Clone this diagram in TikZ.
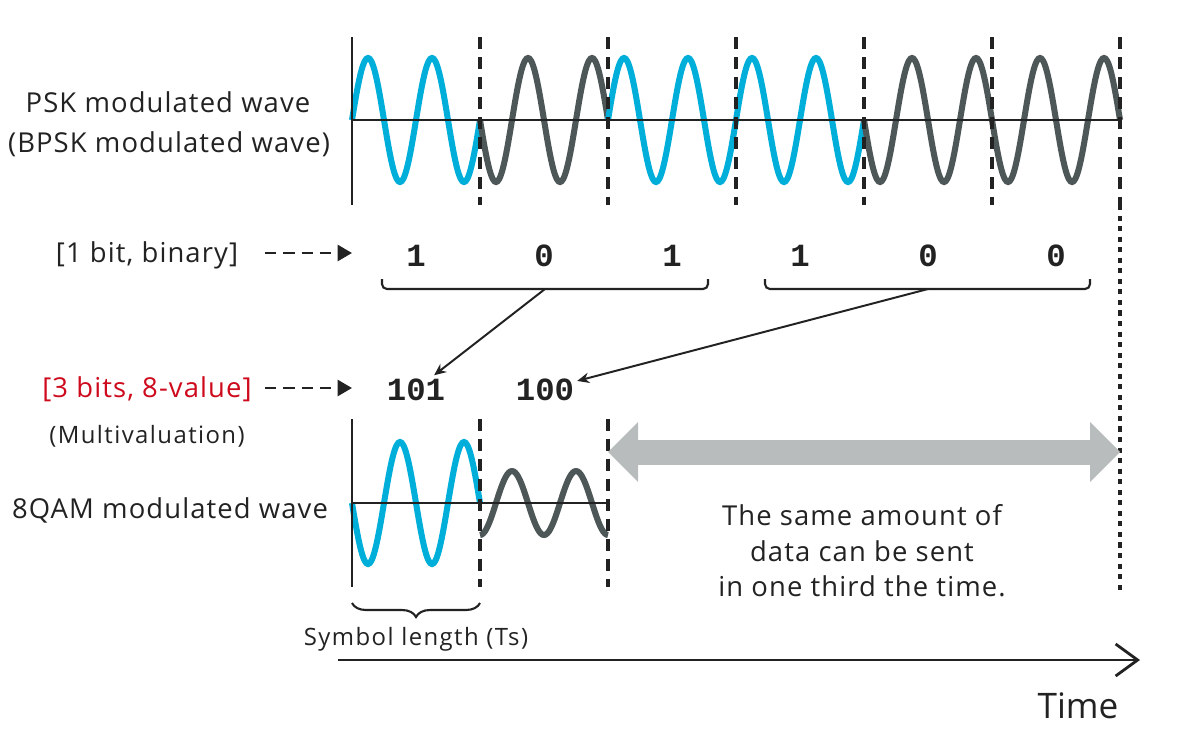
\documentclass[tikz,border=0pt]{standalone}
\usepackage{fontspec}
\setmainfont{Open Sans}
\newfontfamily\bitfont{Liberation Mono}
\usetikzlibrary{arrows.meta,decorations.pathreplacing}
\definecolor{oneblue}{HTML}{00AEDA}
\definecolor{zerogrey}{HTML}{4D5758}
\definecolor{ink}{HTML}{222222}
\definecolor{crimson}{HTML}{CE0A1D}
\definecolor{spangrey}{HTML}{B9BCBC}
\tikzset{
  lbl/.style={font=\fontsize{19.5}{25.3}\selectfont\addfontfeatures{LetterSpace=4}, text=ink, inner sep=0pt, anchor=base},
  sml/.style={font=\fontsize{17}{20}\selectfont\addfontfeatures{LetterSpace=6}, text=ink, inner sep=0pt, anchor=base},
  bitv/.style={font=\bitfont\bfseries\fontsize{23}{26}\selectfont, text=ink, inner sep=2pt, anchor=base},
  axisln/.style={draw=ink, line width=1.9pt},
  symln/.style={draw=ink, line width=2.6pt, dash pattern=on 8.5pt off 5.7pt},
  dotln/.style={draw=ink, line width=2.6pt, dash pattern=on 3.6pt off 3.9pt},
  wav/.style={draw=#1, line width=4.3pt},
  grp/.style={draw=ink, line width=1.5pt, rounded corners=3.5pt},
  link/.style={draw=ink, line width=1.4pt, -{Stealth[length=3mm,width=2.6mm]}},
  ptr/.style={draw=ink, line width=1.9pt, dash pattern=on 8pt off 5pt, -{Triangle[length=3.6mm,width=4mm]}},
  span/.style={draw=spangrey, line width=6.25mm,
               {Triangle[length=7.5mm,width=15mm,line width=0pt]}-{Triangle[length=7.5mm,width=15mm,line width=0pt]}},
  tbrace/.style={draw=ink, line width=1.5pt, decorate, decoration={brace, mirror, amplitude=3.5mm}},
  timeax/.style={draw=ink, line width=2pt, -{Straight Barb[length=5.5mm,width=8mm]}},
}

\begin{document}
\begin{tikzpicture}[x=0.025cm, y=-0.025cm]
  \useasboundingbox (0,0) rectangle (1200,750);

  % PSK wave, one symbol per bit
  \foreach \s/\c [count=\i from 0] in {1/oneblue,-1/zerogrey,1/oneblue,1/oneblue,-1/zerogrey,-1/zerogrey}
    \draw[wav=\c] plot[domain=0:128, samples=81, smooth] ({352+128*\i+\x}, {120-(\s)*62*sin(5.625*\x)});
  \draw[axisln] (352,37) -- (352,205);
  \draw[axisln] (352,120) -- (1120,120);
  \foreach \x in {480,608,...,1120}
    \draw[symln] (\x,37) -- (\x,205);
  \draw[dotln] (1120,205) -- (1120,590);

  % 8QAM wave
  \draw[wav=oneblue] plot[domain=0:128, samples=81, smooth] ({352+\x}, {503+61*sin(5.625*\x)});
  \draw[wav=zerogrey] plot[domain=0:128, samples=81, smooth] ({480+\x}, {503+32*cos(5.625*\x)});
  \draw[axisln] (352,419) -- (352,587);
  \draw[axisln] (352,503) -- (608,503);
  \foreach \x in {480,608}
    \draw[symln] (\x,419) -- (\x,587);

  \node[lbl] (pskname) at (168,112) {PSK modulated wave};
  \node[lbl] (bpskname) at (169,152) {(BPSK modulated wave)};
  \node[lbl] (onebit) at (147,262) {[1 bit, binary]};
  \node[lbl, text=crimson] (threebit) at (147,397) {[3 bits, 8-value]};
  \node[sml] (multi) at (147,443) {(Multivaluation)};
  \node[lbl] (qamname) at (170,518) {8QAM modulated wave};

  \coordinate (p1s) at (265,253);
  \coordinate (p1e) at (352,253);
  \coordinate (p3s) at (265,388);
  \coordinate (p3e) at (352,388);
  \draw[ptr] (p1s) -- (p1e);
  \draw[ptr] (p3s) -- (p3e);

  \foreach \b [count=\i from 0] in {1,0,1,1,0,0}
    \node[bitv] (bit\i) at (416+128*\i,266) {\b};
  \node[bitv] (v101) at (416,400) {101};
  \node[bitv] (v100) at (545,400) {100};

  \draw[grp] (382,279) -- (382,289) -- (708,289) -- (708,279);
  \draw[grp] (765,279) -- (765,289) -- (1090,289) -- (1090,279);
  \coordinate (g1) at (545,289);
  \coordinate (g2) at (928,289);
  \draw[link] (g1) -- (v101);
  \draw[link] (g2) -- (v100);

  \coordinate (s0) at (608,452);
  \coordinate (s1) at (1120,452);
  \draw[span] (s0) -- (s1);
  \node[lbl, anchor=center, align=center] (note) at (862,551)
    {The same amount of\\data can be sent\\in one third the time.};

  \coordinate (ts0) at (352,603);
  \coordinate (ts1) at (480,603);
  \draw[tbrace] (ts0) -- (ts1);
  \node[sml] (symlen) at (416,645) {Symbol length (Ts)};

  \coordinate (t0) at (338,660);
  \coordinate (t1) at (1140,660);
  \draw[timeax] (t0) -- (t1);
  \node[font=\fontsize{25}{30}\selectfont, text=ink, anchor=base] (timelbl) at (1078,718) {Time};
\end{tikzpicture}
\end{document}
